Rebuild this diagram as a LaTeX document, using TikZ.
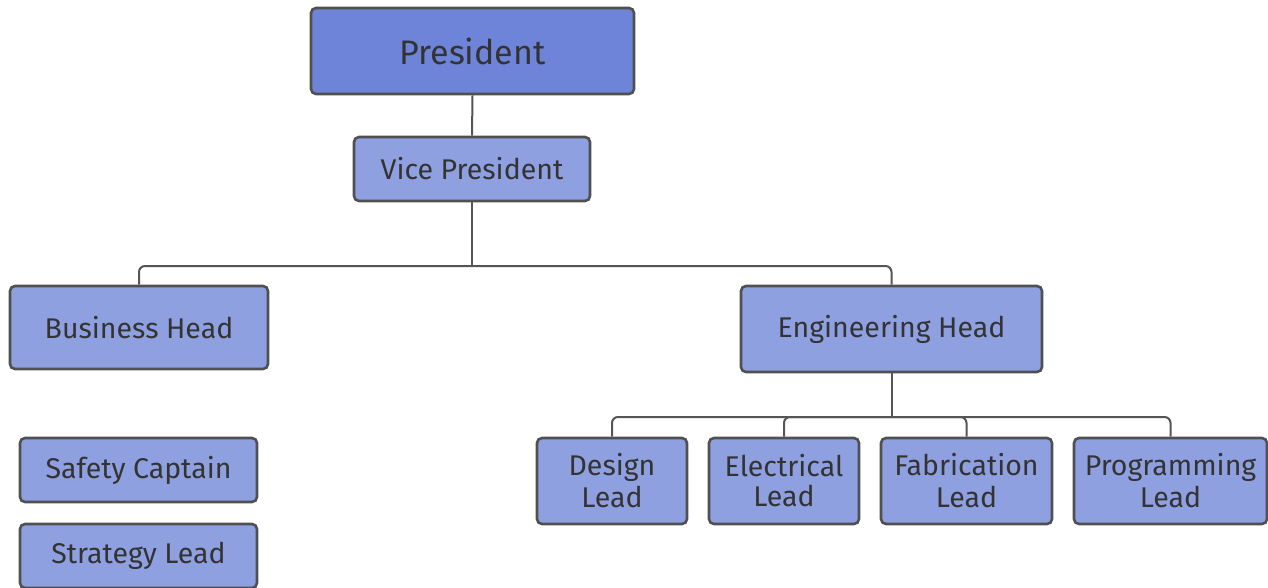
\documentclass[tikz,border=0pt]{standalone}
\usepackage{fontspec}
\setmainfont{Fira Sans}
\begin{document}
\begin{tikzpicture}[x=1pt,y=-1pt,
  box/.style={draw=boxline, line width=2.6pt, rounded corners=5pt, fill=boxfill,
    text=txt, inner sep=0pt, align=center, font=\fontsize{28.5}{32}\selectfont},
  link/.style={draw=linkc, line width=2pt, rounded corners=6pt}]
\definecolor{boxfill}{HTML}{8FA0E1}
\definecolor{topfill}{HTML}{6E84D9}
\definecolor{boxline}{HTML}{505050}
\definecolor{linkc}{HTML}{555555}
\definecolor{txt}{HTML}{333333}
\useasboundingbox (0,0) rectangle (1268,588);
\node[box, fill=topfill, minimum width=323pt, minimum height=86pt, font=\fontsize{34}{38}\selectfont] (pres) at (472.5,51) {President};
\node[box, minimum width=236pt, minimum height=64pt] (vp) at (472,169) {Vice President};
\node[box, minimum width=258pt, minimum height=83pt] (bus) at (139,327.5) {Business Head};
\node[box, minimum width=301pt, minimum height=86pt] (eng) at (891.5,329) {Engineering Head};
\node[box, minimum width=237pt, minimum height=64pt] (safe) at (138.5,470) {Safety Captain};
\node[box, minimum width=237pt, minimum height=64pt] (strat) at (138.5,556) {Strategy Lead};
\node[box, minimum width=150pt, minimum height=86pt] (des) at (612,481) {Design\\Lead};
\node[box, minimum width=150pt, minimum height=86pt, font=\fontsize{28.5}{30}\selectfont] (ele) at (784,481) {Electrical\\Lead};
\node[box, minimum width=171pt, minimum height=86pt] (fab) at (966.5,481) {Fabrication\\Lead};
\node[box, minimum width=193pt, minimum height=86pt] (prog) at (1170.5,481) {Programming\\Lead};
\coordinate (j1) at (472,266);
\coordinate (j2) at (891.5,417);
\draw[link] (pres.south) -- (vp.north);
\draw[link] (vp.south) -- (j1);
\draw[link] (j1) -| (bus.north);
\draw[link] (j1) -| (eng.north);
\draw[link] (eng.south) -- (j2);
\draw[link] (j2) -| (des.north);
\draw[link] (j2) -| (ele.north);
\draw[link] (j2) -| (fab.north);
\draw[link] (j2) -| (prog.north);
\end{tikzpicture}
\end{document}
